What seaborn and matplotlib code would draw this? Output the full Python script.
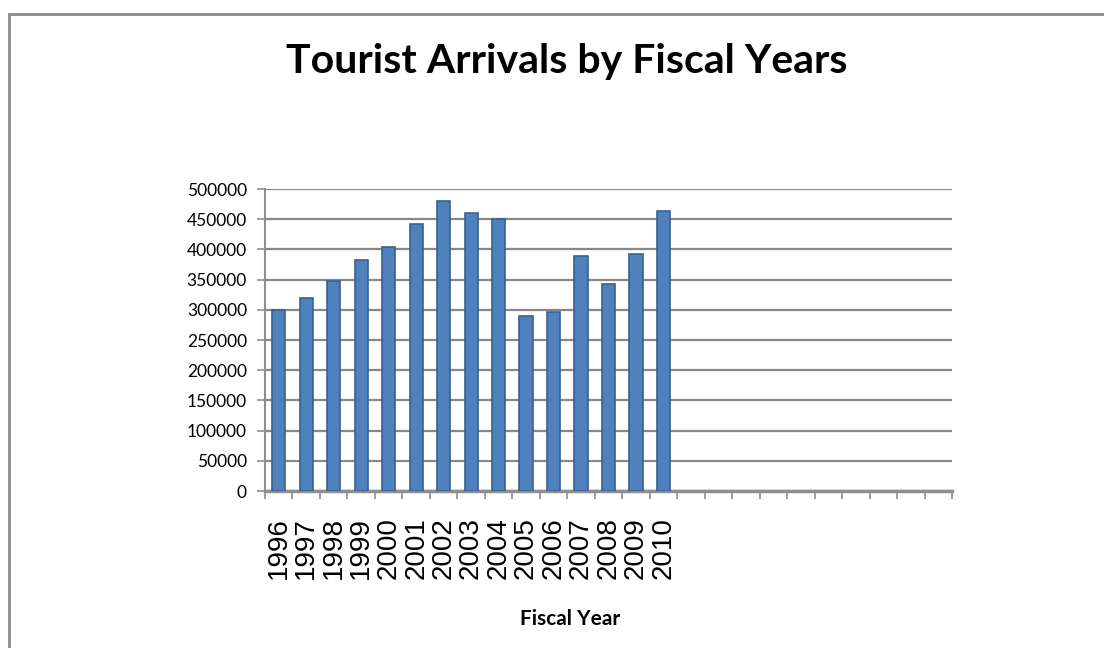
import matplotlib
matplotlib.use("Agg")
import matplotlib.pyplot as plt
import seaborn as sns
import pandas as pd
import numpy as np

years = ["1996", "1997", "1998", "1999", "2000", "2001", "2002", "2003",
         "2004", "2005", "2006", "2007", "2008", "2009", "2010"]
arrivals = [299000, 319000, 348000, 382000, 404000, 442000, 480000, 461000,
            451000, 290000, 297000, 389000, 343000, 392000, 464000]
empty_slots = [f"_{i}" for i in range(10)]
yticks = list(range(0, 500001, 50000))

sns.set_theme(style="white")
plt.rcParams['font.family'] = ['Lato', 'DejaVu Sans']
plt.rcParams['text.color'] = 'black'
plt.rcParams['xtick.color'] = 'black'
plt.rcParams['ytick.color'] = 'black'

df = pd.DataFrame({"Year": years, "Arrivals": arrivals})
order = years + empty_slots

fig = plt.figure(figsize=(11.04, 6.48), dpi=100)
ax = fig.add_axes([265/1104, 1 - 491/648, (952-265)/1104, (491-189)/648])

sns.barplot(data=df, x="Year", y="Arrivals", order=order, ax=ax,
            color="#4F81BD", saturation=1, width=0.48,
            edgecolor="#3A6190", linewidth=1.2, zorder=3)

ax.set_xlim(-0.5, len(order) - 0.5)
ax.set_ylim(0, 500000)
ax.set_yticks(yticks)
ax.set_yticklabels([str(v) for v in yticks], fontsize=12.5, color="black")
ax.yaxis.grid(True, color="#888888", linewidth=1.6, zorder=0)
ax.set_axisbelow(True)

# category boundary ticks, labels at centers
ax.set_xticks(np.arange(-0.5, len(order), 1.0))
ax.set_xticklabels([])
ax.set_xticks(np.arange(len(years)), minor=True)
ax.set_xticklabels(years, minor=True, rotation=90, fontsize=20, color="black",
                   family=['Liberation Sans', 'DejaVu Sans'])
ax.tick_params(axis="x", which="major", direction="out", length=6, width=1.2,
               color="#8f8f8f", bottom=True)
ax.tick_params(axis="x", which="minor", length=0, pad=19, bottom=True)
ax.tick_params(axis="y", direction="out", length=6, width=1.2, color="#8f8f8f",
               left=True, pad=7)

for s in ["top", "right"]:
    ax.spines[s].set_visible(False)
ax.spines["left"].set_color("#8f8f8f")
ax.spines["left"].set_linewidth(1.5)
ax.spines["bottom"].set_color("#8f8f8f")
ax.spines["bottom"].set_linewidth(2.5)

ax.set_ylabel("")
ax.set_xlabel("")
fig.text(570/1104, 1 - 619/648, "Fiscal Year", ha="center", va="center",
         fontsize=15, fontweight="bold", color="black")
fig.text(567/1104, 1 - 62/648, "Tourist Arrivals by Fiscal Years", ha="center",
         va="center", fontsize=29.5, fontweight="bold", color="black")

# chart border
border = plt.Rectangle((9/1104, -0.1), 1.2, 1 - 14/648 + 0.1, transform=fig.transFigure,
                       fill=False, edgecolor="#8c8c8c", linewidth=2)
fig.add_artist(border)

fig.savefig("out.png", dpi=100, facecolor="white")
